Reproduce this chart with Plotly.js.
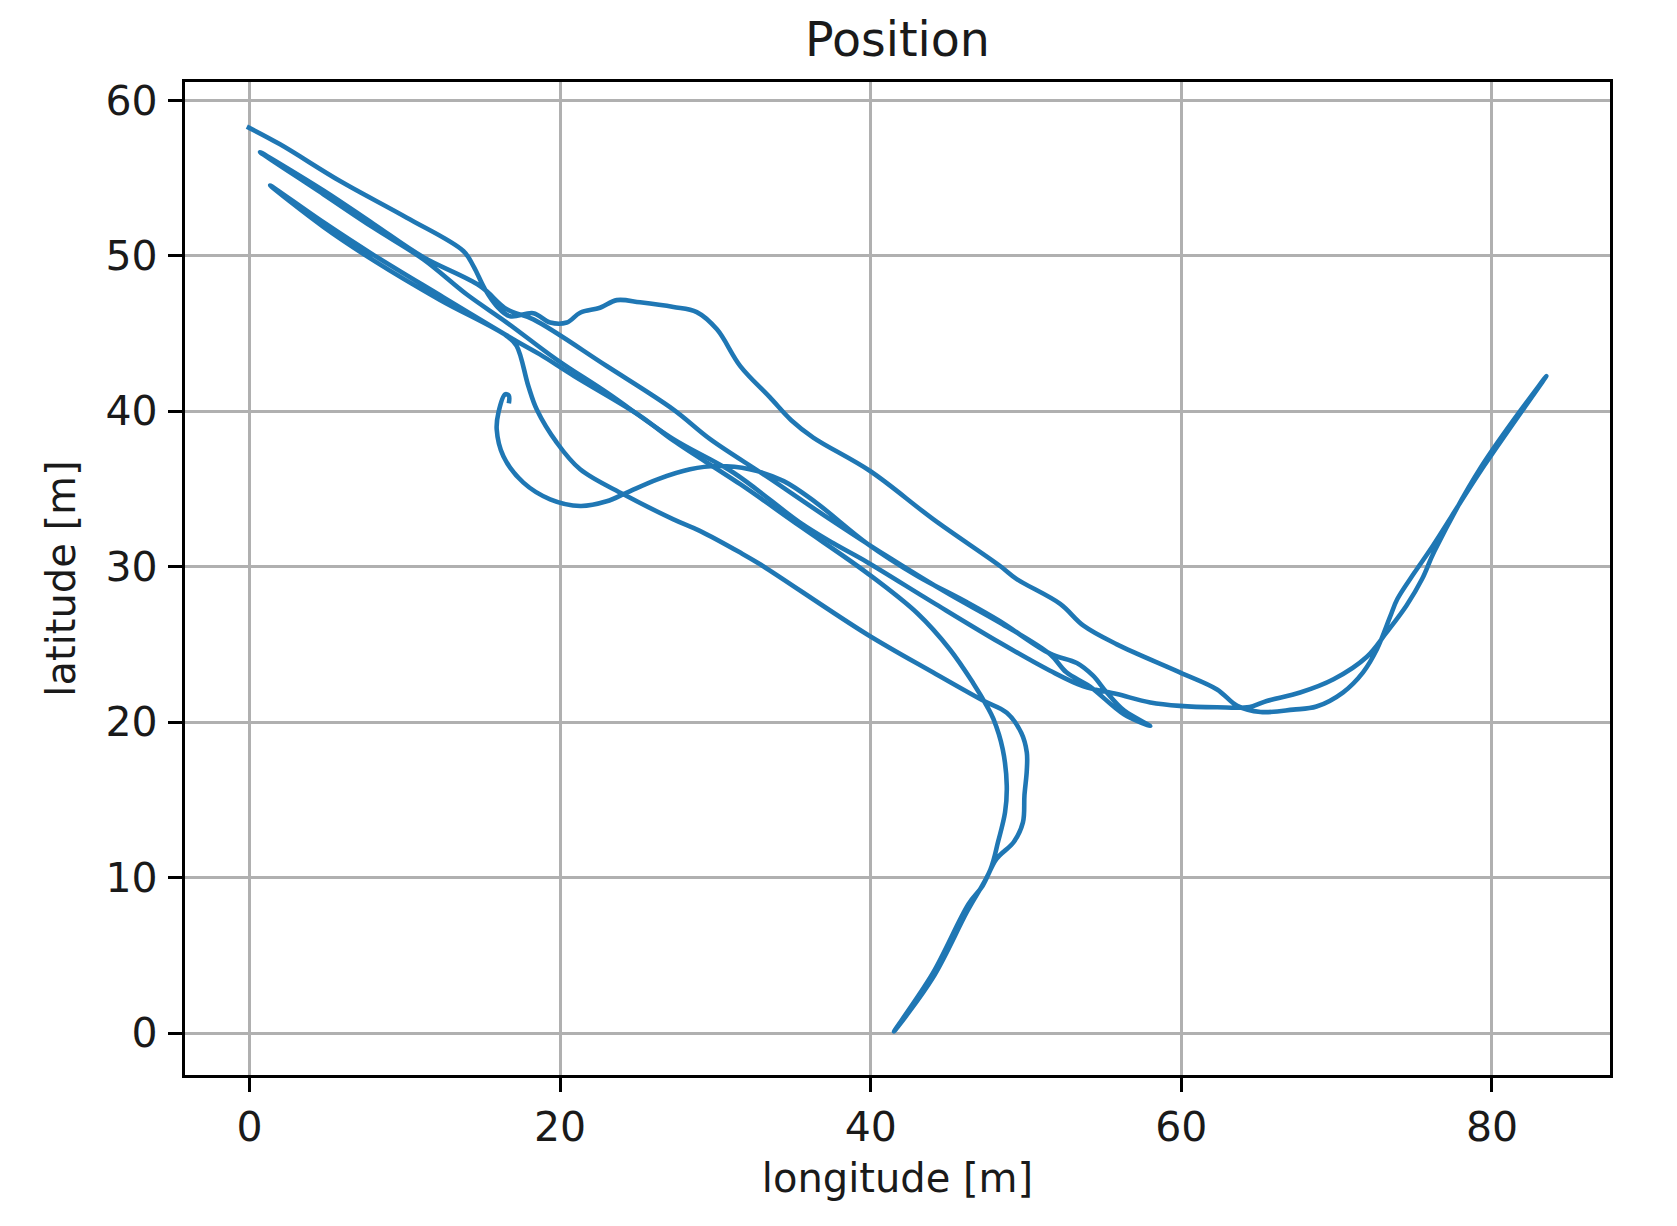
<!DOCTYPE html>
<html><head><meta charset="utf-8">
<script src="https://cdn.plot.ly/plotly-3.0.1.min.js"></script>
<style>html,body{margin:0;padding:0;background:#fff}#c{width:1677px;height:1226px}</style>
</head><body><div id="c"></div>
<script>
const chartTitle = "Position";
const xLabel = "longitude [m]";
const yLabel = "latitude [m]";
const xTicks = [0,20,40,60,80];
const yTicks = [0,10,20,30,40,50,60];

const lonA = [-0.17,1.97,5.83,10.13,13.77,14.42,15.17,15.92,16.78,18.28,19.36,20.43,21.29,22.57,23.65,25.15,27.3,28.8,30.1,31.6,33.5,34.9,36.3,39.96,44.04,48.33,49.4,52.2,53.7,55.85,59.9,62.3,63.6,65.1,67.2,68.7,70.4,71.7,72.6,73.45,73.9,75,76.1,79.3,83.5,79.3,76.3,75.5,74.5,73.2,71.95,69.8,67.65,65.5,64.4,62.3,59.9,58,55.85,53.7,51.55,48.33,44,39.75,37.6,35.45,31.15,27.3,23,19.8,16.57,14,11.2,7.98,4.76,0.68,4.76,7.98,11.2,14.85,16.57,18.28,23,27.3,29.66,33.3,37,41,45.1,48.3,51.55,52.6,54.1,56.3,58,56.3,55.2,54.3,53.27,51.55,48.3,46.2,43,39.75,36.5,34.4,32.2,30.1,28.37,26.23,24.3,23,21.3,19.36,17.64,16.35,15.92,16.03,16.46,16.7,16.7];
const latA = [58.3,57.16,54.8,52.44,50.3,49.33,47.83,46.76,46.1,46.3,45.7,45.7,46.33,46.65,47.14,47,46.7,46.37,45.26,42.9,40.9,39.4,38.3,36.15,33.04,30.04,29.2,27.6,26.2,25,23.2,22.1,21.04,20.65,20.8,21,21.9,23.2,24.7,26.8,27.9,29.6,31.2,36.2,42.25,36.4,31,29.2,27.5,25.75,24.2,22.75,21.9,21.36,20.97,20.95,21.04,21.26,21.8,22.3,23.3,25.1,27.7,30.3,31.5,32.83,36.05,38.2,41.2,43.3,45.7,47.5,49.76,51.8,53.95,56.66,54.2,52.05,49.9,48.05,46.55,45.9,42.9,40.1,38.2,35.8,33.3,30.7,28.2,26.4,24.36,23.2,22.3,20.5,19.75,20.75,21.9,23,23.8,24.4,26.5,27.7,29.4,31.5,34.1,35.5,36.26,36.47,36.26,35.6,34.76,34.2,33.9,34.33,35.4,37.1,38.83,39.9,41.08,41,40.5];

const lonB = [41.5,44,46.2,47.7,48.2,48.65,48.76,48.5,47.9,47.5,46.6,45.1,43,39.75,35.45,31.6,27.3,25.15,20.9,18.7,17.2,12.27,7.98,4.76,1.33,4.76,7.98,12.27,16.57,17.2,17.96,18.5,19.79,21.29,24.08,27.3,29,31.6,32.88,39.75,44,47.2,48.76,49.7,50.05,50.05,49.9,49.8,49.2,48.1,47.2,46.3,44,41.5];
const latB = [0.1,3.55,7.8,10.5,12.3,14.2,15.9,18.25,20.2,21,22.5,24.67,27,29.6,32.6,35.3,38.1,39.7,42.26,43.65,44.5,47.45,50.05,52.15,54.52,51.85,49.7,47.15,44.83,44.2,41.6,40.1,37.97,36.26,34.65,33.04,32.3,30.9,30.15,25.65,23.2,21.4,20.6,19.3,18.05,16.9,15.3,13.55,12.27,11.2,9.46,8.3,3.85,0.1];

const blue = "#1f77b4";
const mk = (x,y)=>({x,y,type:"scatter",mode:"lines",hoverinfo:"skip",showlegend:false,
  line:{color:blue,width:4.6,shape:"spline",smoothing:1}});
const axis = (range,vals,label,standoff,labelGap)=>({
  range,tickmode:"array",tickvals:vals,ticktext:vals.map(String),
  showgrid:true,gridcolor:"#b0b0b0",gridwidth:3,zeroline:false,
  showline:true,mirror:true,linecolor:"#000",linewidth:3.2,
  ticks:"outside",ticklen:14,tickwidth:3,tickcolor:"#000",ticklabelstandoff:labelGap,
  tickfont:{size:41,color:"#1a1a1a"},
  title:{text:label,font:{size:40,color:"#1a1a1a"},standoff},automargin:false
});
Plotly.newPlot("c",[mk(lonA,latA),mk(lonB,latB)],{
  width:1677,height:1226,
  paper_bgcolor:"#fff",plot_bgcolor:"#fff",
  font:{family:"DejaVu Sans",color:"#1a1a1a"},
  margin:{l:185,r:67,t:82,b:151,pad:0},
  title:{text:chartTitle,font:{size:47.5,color:"#1a1a1a"},x:0.5,xref:"paper",xanchor:"center",y:0.968,yanchor:"middle"},
  xaxis:axis([-4.15,87.6],xTicks,xLabel,14,0),
  yaxis:axis([-2.7,61.17],yTicks,yLabel,18,2)
},{displayModeBar:false,staticPlot:true});
</script></body></html>
